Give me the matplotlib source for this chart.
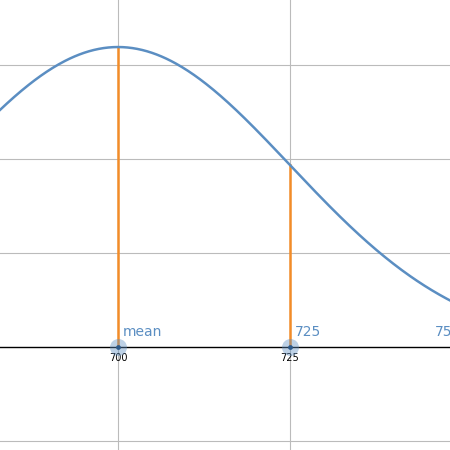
import numpy as np
import matplotlib.pyplot as plt

mean = 700
sd = 25
marks = [700, 725, 750]
mark_labels = ["mean", "725", "750"]
tick_vals = [700, 725]

def pdf(x):
    return np.exp(-0.5 * ((x - mean) / sd) ** 2) / (sd * np.sqrt(2 * np.pi))

fig = plt.figure(figsize=(4.5, 4.5), dpi=100)
ax = fig.add_axes([0, 0, 1, 1])
xmin, xmax = 682.85, 748.26
ax.set_xlim(xmin, xmax)
ax.set_ylim(-0.00548, 0.01846)

for gx in [700, 725, 750]:
    ax.axvline(gx, color="#bbbbbb", lw=0.8, zorder=0)
for gy in [-0.005, 0.005, 0.01, 0.015]:
    ax.axhline(gy, color="#bbbbbb", lw=0.8, zorder=0)
ax.axhline(0, color="black", lw=1, zorder=1)

xs = np.linspace(680, 750, 400)
ax.plot(xs, pdf(xs), color="#5b8ec2", lw=1.8, zorder=3)

for m, lab in zip(marks, mark_labels):
    ax.plot([m, m], [0, pdf(m)], color="#f28c28", lw=1.8, zorder=2)
    ax.scatter([m], [0], s=150, color="#5b8ec2", alpha=0.4, zorder=4, lw=0)
    ax.scatter([m], [0], s=12, color="#2c5a8c", zorder=5, lw=0)
    # labels of off-screen points are pulled in to the right edge
    lx = min(m + 0.7, xmax - 2.2)
    ax.text(lx, 0.0004, lab, color="#5b8ec2", fontsize=10, va="bottom", ha="left")

for t in tick_vals:
    ax.text(t, -0.0003, str(t), fontsize=7, ha="center", va="top", color="black")

ax.set_xticks([])
ax.set_yticks([])
for s in ax.spines.values():
    s.set_visible(False)

fig.savefig("out.png", dpi=100)
